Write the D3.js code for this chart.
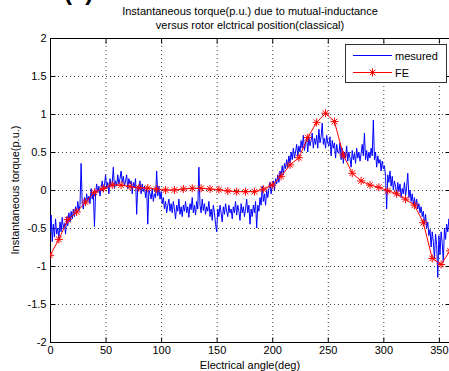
<!DOCTYPE html>
<html><head><meta charset="utf-8">
<script src="https://cdn.jsdelivr.net/npm/d3@7"></script>
<style>html,body{margin:0;padding:0;background:#fff;overflow:hidden}svg{display:block}text{font-family:"Liberation Sans",Arial,sans-serif;fill:#000}</style>
</head><body>
<svg id="c" width="449" height="371"></svg>
<script>
const titleLines = ["Instantaneous torque(p.u.) due to mutual-inductance", "versus rotor elctrical position(classical)"];
const xLabel = "Electrical angle(deg)";
const yLabel = "Instantaneous torque(p.u.)";
const seriesNames = ["mesured", "FE"];
const xTicks = [0, 50, 100, 150, 200, 250, 300, 350];
const yTicks = [-2, -1.5, -1, -0.5, 0, 0.5, 1, 1.5, 2];

// measured torque, one value per degree (0..360)
const measured = [
-0.55,-0.33,-0.68,-0.45,-0.62,-0.38,-0.58,-0.50,-0.65,-0.42,
-0.55,-0.36,-0.50,-0.44,-0.58,-0.35,-0.47,-0.30,-0.42,-0.28,
-0.38,-0.25,-0.35,-0.22,-0.30,-0.15,-0.28,-0.20,0.35,-0.18,
-0.25,-0.10,-0.20,-0.05,-0.15,-0.08,-0.18,0.02,-0.12,-0.02,
-0.48,-0.05,0.08,-0.03,0.05,-0.08,0.03,0.12,-0.02,0.06,
0.20,0.02,0.10,-0.05,0.15,0.05,0.10,0.30,0.02,0.12,
0.05,0.20,0.08,0.15,0.25,0.10,0.18,0.05,0.12,0.20,
0.02,0.15,0.08,0.12,-0.05,0.10,0.03,0.15,-0.32,0.05,
0.00,0.12,-0.05,0.08,-0.02,0.05,-0.10,0.02,-0.45,0.00,
-0.05,-0.12,0.02,-0.15,-0.05,-0.10,0.25,-0.08,0.05,-0.12,
-0.02,-0.18,-0.10,-0.25,-0.15,-0.30,-0.20,-0.12,-0.28,-0.18,
-0.30,-0.15,-0.25,-0.38,-0.20,-0.28,-0.12,-0.32,-0.22,-0.35,
-0.20,-0.28,-0.15,-0.30,-0.22,-0.36,-0.18,-0.26,-0.10,-0.30,
-0.20,-0.33,-0.15,-0.25,0.30,-0.20,-0.30,-0.12,-0.27,-0.18,
-0.32,-0.22,-0.28,-0.15,-0.35,-0.25,-0.40,-0.20,-0.30,-0.45,
-0.55,-0.25,-0.35,-0.20,-0.30,-0.42,-0.22,-0.32,-0.18,-0.28,
-0.35,-0.20,-0.30,-0.25,-0.38,-0.22,-0.30,-0.15,-0.33,-0.20,
-0.28,-0.40,-0.18,-0.30,-0.22,-0.35,-0.25,-0.12,-0.30,-0.20,
-0.45,-0.25,-0.35,-0.20,-0.30,-0.15,-0.50,-0.20,-0.28,-0.10,
-0.20,0.05,-0.15,-0.05,-0.20,0.00,-0.10,0.02,0.10,-0.05,
0.05,0.12,0.00,0.15,0.08,0.20,0.10,0.25,0.18,0.32,
0.20,0.35,0.28,0.40,0.30,0.45,0.35,0.50,0.40,0.55,
0.42,0.50,0.60,0.45,0.58,0.50,0.65,0.55,0.72,0.52,
0.62,0.68,0.50,0.70,0.58,0.65,0.75,0.55,0.68,0.60,
0.72,0.55,0.80,0.62,0.70,0.88,0.60,0.68,0.55,0.72,
0.62,0.58,0.70,0.45,0.65,0.55,0.62,0.42,0.60,0.50,
0.48,0.62,0.40,0.55,0.35,0.50,0.42,0.58,0.38,0.50,
0.42,0.30,0.52,0.40,0.48,0.35,0.55,0.42,0.50,0.38,
0.48,0.60,0.45,0.75,0.40,0.52,0.38,0.50,0.42,0.55,
0.45,0.92,0.40,0.50,0.30,0.45,0.35,0.40,0.25,0.38,
0.28,0.32,0.18,-0.25,0.20,0.10,0.25,0.05,0.18,0.00,
0.12,0.05,-0.08,0.10,-0.02,0.08,-0.10,0.02,-0.05,0.10,
-0.08,0.05,0.22,-0.10,0.00,-0.15,-0.05,-0.20,-0.10,-0.22,
-0.12,-0.25,-0.18,-0.30,-0.22,-0.35,-0.28,-0.45,-0.32,-0.50,
-0.42,-0.60,-0.52,-0.75,-0.55,-0.68,-0.90,-0.58,-0.72,-1.15,
-0.60,-0.85,-0.55,-0.70,-0.95,-0.50,-0.65,-0.45,-0.55,-0.38,
-0.45
];

// FE torque, one value every 8 degrees (0..360)
const feAngles = [0,8,16,24,32,40,48,56,64,72,80,88,96,104,112,120,128,136,144,152,160,168,176,184,192,200,208,216,224,232,240,248,256,264,272,280,288,296,304,312,320,328,336,344,352,360];
const feValues = [-0.86,-0.65,-0.39,-0.29,-0.16,-0.03,0.02,0.065,0.065,0.045,0.03,0.025,0.01,0,0,0.013,0.022,0.022,0.013,0.004,-0.013,-0.022,-0.022,-0.022,0.01,0.065,0.18,0.33,0.425,0.69,0.89,1.01,0.9,0.46,0.22,0.12,0.065,0.035,-0.01,-0.05,-0.12,-0.2,-0.43,-0.9,-0.98,-0.8];

const svg = d3.select("#c");
const L = 50, R = 450, T = 38, B = 342;
const x = d3.scaleLinear().domain([0, 360]).range([L, R]);
const y = d3.scaleLinear().domain([-2, 2]).range([B, T]);

// partially visible panel label at top
svg.append("text").attr("x", 64).attr("y", 0).attr("font-size", 24).attr("font-weight", "bold").text("(c)");

// grid
const g = svg.append("g");
g.selectAll(".gx").data(xTicks.filter(d => d > 0)).enter().append("line")
  .attr("x1", d => x(d) + 0.5).attr("x2", d => x(d) + 0.5).attr("y1", T).attr("y2", B)
  .attr("stroke", "#000").attr("stroke-width", 1).attr("stroke-dasharray", "1,3").attr("opacity", 0.75);
g.selectAll(".gy").data(yTicks.filter(d => d > -2 && d < 2)).enter().append("line")
  .attr("y1", d => Math.round(y(d)) + 0.5).attr("y2", d => Math.round(y(d)) + 0.5).attr("x1", L).attr("x2", R)
  .attr("stroke", "#000").attr("stroke-width", 1).attr("stroke-dasharray", "1,3").attr("opacity", 0.75);

// axes
const xAxis = d3.axisBottom(x).tickValues(xTicks).tickSize(-5).tickPadding(4).tickFormat(d3.format("d"));
const yAxis = d3.axisLeft(y).tickValues(yTicks).tickSize(-5).tickPadding(4).tickFormat(d => String(d));
const ax = svg.append("g").attr("transform", `translate(0,${B + 0.5})`).call(xAxis);
const ay = svg.append("g").attr("transform", `translate(${L + 0.5},0)`).call(yAxis);
const axTop = svg.append("g").attr("transform", `translate(0,${T + 0.5})`).call(d3.axisTop(x).tickValues(xTicks).tickSize(-5).tickFormat(""));
const ayRight = svg.append("g").attr("transform", `translate(${R + 0.5},0)`).call(d3.axisRight(y).tickValues(yTicks).tickSize(-5).tickFormat(""));
[ax, ay, axTop, ayRight].forEach(a => {
  a.select(".domain").attr("stroke", "#000");
  a.selectAll(".tick line").attr("stroke", "#000");
  a.selectAll("text").attr("font-size", 11).attr("font-family", "Liberation Sans, Arial, sans-serif").attr("fill", "#000");
});
ax.select(".domain").attr("d", `M${L},0H${R}`);
ay.select(".domain").attr("d", `M0,${T}V${B}`);
axTop.select(".domain").attr("d", `M${L},0H${R}`);
ayRight.select(".domain").attr("d", `M0,${T}V${B}`);

// data lines
const clip = svg.append("clipPath").attr("id", "clip").append("rect").attr("x", L).attr("y", T).attr("width", R - L).attr("height", B - T);
const line = d3.line().x(d => x(d[0])).y(d => y(d[1]));
svg.append("path").datum(measured.map((v, i) => [i, v])).attr("d", line)
  .attr("fill", "none").attr("stroke", "#0000ff").attr("stroke-width", 1).attr("clip-path", "url(#clip)");
const fe = feAngles.map((a, i) => [a, feValues[i]]);
svg.append("path").datum(fe).attr("d", line)
  .attr("fill", "none").attr("stroke", "#ff0000").attr("stroke-width", 1).attr("clip-path", "url(#clip)");
const star = s => `M0,${-s}V${s}M${-s},0H${s}M${-s*0.7},${-s*0.7}L${s*0.7},${s*0.7}M${-s*0.7},${s*0.7}L${s*0.7},${-s*0.7}`;
svg.append("g").attr("clip-path", "url(#clip)").selectAll("path.m").data(fe).enter().append("path")
  .attr("transform", d => `translate(${x(d[0])},${y(d[1])})`).attr("d", star(4))
  .attr("fill", "none").attr("stroke", "#ff0000").attr("stroke-width", 1);

// title
svg.append("text").attr("x", 250).attr("y", 15).attr("text-anchor", "middle").attr("font-size", 11).text(titleLines[0]);
svg.append("text").attr("x", 250).attr("y", 29).attr("text-anchor", "middle").attr("font-size", 11).text(titleLines[1]);
// axis labels
svg.append("text").attr("x", 250).attr("y", 369).attr("text-anchor", "middle").attr("font-size", 11).text(xLabel);
svg.append("text").attr("transform", `translate(19,${(T + B) / 2}) rotate(-90)`).attr("text-anchor", "middle").attr("font-size", 11).text(yLabel);

// legend
const lg = svg.append("g");
lg.append("rect").attr("x", 345.5).attr("y", 44.5).attr("width", 101).attr("height", 38).attr("fill", "#fff").attr("stroke", "#333");
lg.append("line").attr("x1", 353).attr("x2", 392).attr("y1", 55.5).attr("y2", 55.5).attr("stroke", "#0000ff");
lg.append("text").attr("x", 395).attr("y", 59.5).attr("font-size", 11).text(seriesNames[0]);
lg.append("line").attr("x1", 353).attr("x2", 392).attr("y1", 72.5).attr("y2", 72.5).attr("stroke", "#ff0000");
lg.append("path").attr("transform", "translate(372.5,72.5)").attr("d", star(4)).attr("fill", "none").attr("stroke", "#ff0000");
lg.append("text").attr("x", 395).attr("y", 76.5).attr("font-size", 11).text(seriesNames[1]);
</script>
</body></html>
